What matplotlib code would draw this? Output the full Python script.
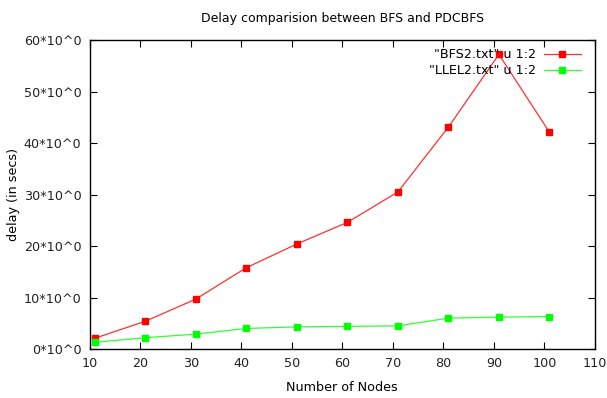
import matplotlib
matplotlib.use("Agg")
import matplotlib.pyplot as plt
from matplotlib.ticker import FuncFormatter

# data
nodes = [11, 21, 31, 41, 51, 61, 71, 81, 91, 101]
bfs_delay = [2.1, 5.4, 9.7, 15.8, 20.4, 24.6, 30.5, 43.1, 57.2, 42.1]
llel_delay = [1.3, 2.2, 2.9, 4.0, 4.3, 4.4, 4.5, 6.0, 6.2, 6.3]

plt.rcParams["font.family"] = "DejaVu Sans"
plt.rcParams["font.size"] = 9.2

fig = plt.figure(figsize=(6.07, 3.98), dpi=100)
ax = fig.add_axes([0.148, 0.123, 0.832, 0.7765])

ax.plot(nodes, bfs_delay, color="#ff3030", lw=0.9, marker="s", ms=4.6,
        mec="#ff0000", mfc="#ff0000", label='"BFS2.txt" u 1:2')
ax.plot(nodes, llel_delay, color="#30ff30", lw=0.9, marker="s", ms=4.6,
        mec="#00ff00", mfc="#00ff00", label='"LLEL2.txt" u 1:2')

ax.set_xlim(10, 110)
ax.set_ylim(0, 60)
ax.set_xticks(range(10, 111, 10))
ax.set_yticks(range(0, 61, 10))
ax.yaxis.set_major_formatter(FuncFormatter(lambda v, p: "%d*10^0" % v))
ax.tick_params(direction="in", top=True, right=True, length=5, width=0.8,
               colors="black", labelcolor="#222222", pad=6)
for s in ax.spines.values():
    s.set_linewidth(1.0)

ax.set_title("Delay comparision between BFS and PDCBFS", fontsize=9, pad=13)
ax.set_xlabel("Number of Nodes", labelpad=8)
ax.set_ylabel("delay (in secs)", labelpad=3)

ax.legend(loc="upper right", bbox_to_anchor=(1.0, 1.019), frameon=False,
          markerfirst=False, handlelength=2.9, handletextpad=0.6,
          labelspacing=0.25, borderaxespad=0.9, borderpad=0.2, fontsize=9.2)

fig.savefig("out.png", dpi=100)
